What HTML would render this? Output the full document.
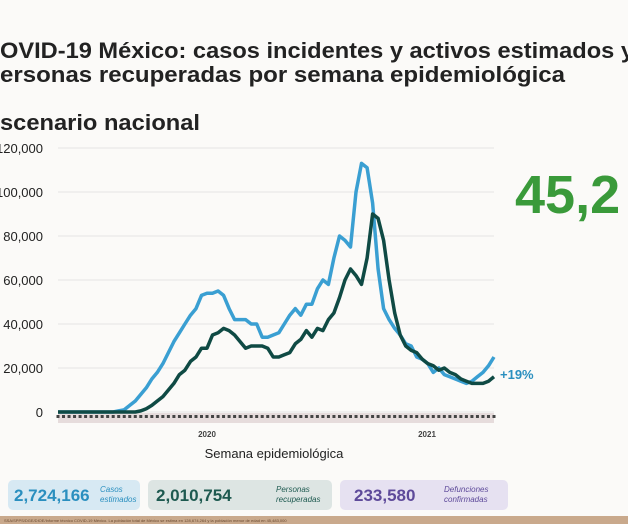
<!DOCTYPE html>
<html><head><meta charset="utf-8"><style>
html,body{margin:0;padding:0;background:#fbfaf8;}
svg{display:block;font-family:"Liberation Sans",sans-serif;}
</style></head><body>
<svg id="chart" width="628" height="524" viewBox="0 0 628 524">
<rect x="0" y="0" width="628" height="524" fill="#fbfaf8"/>
<text x="0" y="58" font-size="22" font-weight="bold" fill="#222" textLength="634" lengthAdjust="spacingAndGlyphs">OVID-19 México: casos incidentes y activos estimados y</text>
<text x="0" y="82" font-size="22" font-weight="bold" fill="#222" textLength="565" lengthAdjust="spacingAndGlyphs">ersonas recuperadas por semana epidemiológica</text>
<text x="0" y="130" font-size="22" font-weight="bold" fill="#222" textLength="200" lengthAdjust="spacingAndGlyphs">scenario nacional</text>
<text x="515" y="213" font-size="54" font-weight="bold" fill="#3a9a3a">45,2</text>
<g id="grid"></g>
<rect x="58" y="413" width="436" height="10" fill="#e6dcdc"/>
<g id="ticks"></g>
<text x="207" y="437" font-size="8" font-weight="bold" fill="#444" text-anchor="middle">2020</text>
<text x="427" y="437" font-size="8" font-weight="bold" fill="#444" text-anchor="middle">2021</text>
<text x="274" y="458" font-size="13" fill="#222" text-anchor="middle">Semana epidemiológica</text>
<g id="series"></g>
<text x="500" y="379" font-size="13" font-weight="bold" fill="#2a8fbf">+19%</text>

<rect x="8" y="480" width="132" height="30" rx="5" fill="#d7e9f3"/>
<text x="14" y="501" font-size="17" font-weight="bold" fill="#2a8fbf">2,724,166</text>
<text x="100" y="492" font-size="8" font-style="italic" fill="#2a8fbf">Casos</text>
<text x="100" y="502" font-size="8" font-style="italic" fill="#2a8fbf">estimados</text>
<rect x="148" y="480" width="184" height="30" rx="5" fill="#dde5e3"/>
<text x="156" y="501" font-size="17" font-weight="bold" fill="#1e5a50">2,010,754</text>
<text x="276" y="492" font-size="8" font-style="italic" fill="#1e5a50">Personas</text>
<text x="276" y="502" font-size="8" font-style="italic" fill="#1e5a50">recuperadas</text>
<rect x="340" y="480" width="168" height="30" rx="5" fill="#e6e1f1"/>
<text x="354" y="501" font-size="17" font-weight="bold" fill="#5e4a9a">233,580</text>
<text x="444" y="492" font-size="8" font-style="italic" fill="#5e4a9a">Defunciones</text>
<text x="444" y="502" font-size="8" font-style="italic" fill="#5e4a9a">confirmadas</text>
<rect x="0" y="516" width="628" height="8" fill="#c9a98c"/>
<text x="4" y="522" font-size="4" fill="#6a4a30">SSA/SPPS/DGE/DIOE/Informe técnico COVID-19 México. La población total de México se estima en 128,674,264 y la población menor de edad en 45,483,000</text>
</svg>
<script>
const yTicks=[0,20000,40000,60000,80000,100000,120000];
const yTickLabels=["0","20,000","40,000","60,000","80,000","100,000","120,000"];
const activos=[0,0,0,0,0,0,0,0,0,0,0,0.5,1,3,5,8,11,15,18,22,27,32,36,40,44,47,53,54,54,55,53,47,42,42,42,40,40,34,34,35,36,40,44,47,44,49,49,56,60,58,70,80,78,75,100,113,111,95,65,47,42,38,35,31,30,25,24,22,18,20,17,16,15,14,13,14,16,18,21,25].map(v=>v*1000);
const incidentes=[0,0,0,0,0,0,0,0,0,0,0,0,0,0,0,0.5,1.5,3,5,7,10,13,17,19,23,25,29,29,35,36,38,37,35,32,29,30,30,30,29,25,25,26,27,31,33,37,34,38,37,42,45,52,60,65,62,58,70,90,88,78,60,45,35,30,28,27,24,22,21,19,20,18,17,15,14,13,13,13,14,16].map(v=>v*1000);
const NS="http://www.w3.org/2000/svg";
const x0=58,x1=494,yBase=412,yTop=148,yMax=120000;
const xs=i=>x0+i*(x1-x0)/(activos.length-1);
const ys=v=>yBase-(v/yMax)*(yBase-yTop);
const grid=document.getElementById('grid');
yTicks.forEach((t,k)=>{
  const l=document.createElementNS(NS,'line');
  l.setAttribute('x1',x0);l.setAttribute('x2',x1);l.setAttribute('y1',ys(t));l.setAttribute('y2',ys(t));
  l.setAttribute('stroke','#e4e4e4');l.setAttribute('stroke-width','1');
  
  
  grid.appendChild(l);
  const tx=document.createElementNS(NS,'text');
  tx.setAttribute('x',43);tx.setAttribute('y',ys(t)+5);tx.setAttribute('text-anchor','end');
  tx.setAttribute('font-size','13');tx.setAttribute('fill','#222');
  tx.textContent=yTickLabels[k];
  
  
  grid.appendChild(tx);
});
const ticks=document.getElementById('ticks');
for(let i=0;i<activos.length;i++){
  const r=document.createElementNS(NS,'rect');
  r.setAttribute('x',xs(i)-1.5);r.setAttribute('y',415);r.setAttribute('width',3);r.setAttribute('height',3);
  r.setAttribute('fill','#444');
  
  
  ticks.appendChild(r);
}
function line(data,color,name){
  const p=document.createElementNS(NS,'path');
  p.setAttribute('d',data.map((v,i)=>(i?'L':'M')+xs(i).toFixed(1)+','+ys(v).toFixed(1)).join(''));
  p.setAttribute('fill','none');p.setAttribute('stroke',color);p.setAttribute('stroke-width','3.5');p.setAttribute('stroke-linejoin','round');
  
  
  document.getElementById('series').appendChild(p);
}
line(activos,'#3a9fd2','series-activos');
line(incidentes,'#0f4a44','series-incidentes');
</script>
</body></html>
